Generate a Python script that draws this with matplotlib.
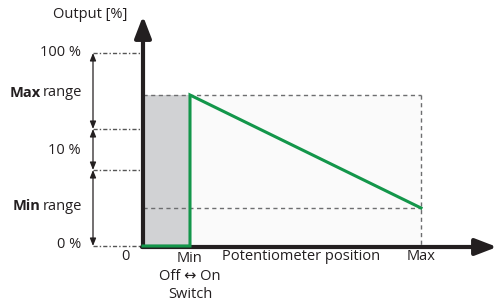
import matplotlib
matplotlib.use("Agg")
import matplotlib.pyplot as plt
from matplotlib.patches import Rectangle

plt.rcParams["font.family"] = ["Open Sans", "DejaVu Sans"]

# schematic coordinates (figure pixels, y downward)
x_axis0 = 143          # output axis position (potentiometer = 0)
x_min = 190            # Min position (switch point)
x_max = 421            # Max position
y_zero = 246           # 0 %
y_min_range = 208      # level reached at Max position
y_10_low = 170         # lower bound of 10 % band
y_10_high = 129        # upper bound of 10 % band
y_max_range = 95       # level reached at Min position
y_100 = 53             # 100 %

curve_x = [x_axis0, x_min, x_min, x_max]
curve_y = [y_zero, y_zero, y_max_range, y_min_range]

ref_levels = [y_100, y_10_high, y_10_low, y_zero]
level_labels = ["100 %", "10 %", "0 %"]
level_label_y = [53, 150, 244]
range_words = ["Max", "Min"]
range_label_y = [93, 206]

fig = plt.figure(figsize=(4.97, 3.05), dpi=100)
ax = fig.add_axes([0, 0, 1, 1])
ax.set_xlim(0, 497)
ax.set_ylim(305, 0)
ax.axis("off")

# background areas
ax.add_patch(Rectangle((x_min, y_max_range), x_max - x_min, y_zero - y_max_range,
                       facecolor="#fafafa", edgecolor="none", zorder=0))
ax.add_patch(Rectangle((x_axis0, y_max_range), x_min - x_axis0, y_zero - y_max_range,
                       facecolor="#d1d2d4", edgecolor="none", zorder=1))

dash = dict(color="#6d6e70", lw=1.0, ls=(0, (3, 2.5)), zorder=2)
ax.plot([x_axis0, x_max], [y_max_range, y_max_range], **dash)
ax.plot([x_max, x_max], [y_max_range, y_zero], **dash)
ax.plot([x_axis0, x_max], [y_min_range, y_min_range], **dash)

# dash-dot reference lines to the left of the axis
for y in ref_levels:
    ax.plot([93, x_axis0], [y, y], color="#555555", lw=1.0,
            ls=(0, (3, 1.5, 1, 1.5)), zorder=2)

# range arrows
arr = dict(arrowstyle="<|-|>,head_length=0.45,head_width=0.18", color="#231f20",
           lw=0.9, shrinkA=0, shrinkB=0)
for y0, y1 in [(y_100, y_10_high), (y_10_high, y_10_low), (y_10_low, y_zero)]:
    ax.annotate("", xy=(93, y0), xytext=(93, y1), arrowprops=arr)

# axes with arrows
head = "-|>,head_length=1.3,head_width=0.5"
ax.annotate("", xy=(x_axis0, 16), xytext=(x_axis0, y_zero + 1),
            arrowprops=dict(arrowstyle=head, color="#231f20", lw=3,
                            shrinkA=0, shrinkB=0), zorder=5)
ax.annotate("", xy=(497, y_zero + 1), xytext=(x_axis0 - 1, y_zero + 1),
            arrowprops=dict(arrowstyle=head, color="#231f20", lw=3,
                            shrinkA=0, shrinkB=0), zorder=5)

# output curve
ax.plot(curve_x, curve_y, color="#13964a", lw=2.2, zorder=6, solid_joinstyle="miter")

fs = 10.5
tc = "#231f20"
ax.text(90, 15, "Output [%]", fontsize=fs, ha="center", va="center", color=tc)
for lab, y in zip(level_labels, level_label_y):
    ax.text(81, y, lab, fontsize=fs, ha="right", va="center", color=tc)

renderer = fig.canvas.get_renderer()
for word, y in zip(range_words, range_label_y):
    t = ax.text(82, y, "range", fontsize=fs, ha="right", va="center", color=tc)
    bb = t.get_window_extent(renderer)
    x_left = ax.transData.inverted().transform((bb.x0, 0))[0]
    ax.text(x_left - 2, y, word, fontsize=fs, ha="right", va="center", color=tc,
            fontweight="bold")

ax.text(125, 256, "0", fontsize=fs, ha="center", va="center", color=tc)
ax.text(x_min, 258, "Min", fontsize=fs, ha="center", va="center", color=tc)
ax.text(301, 257, "Potentiometer position", fontsize=fs, ha="center", va="center", color=tc)
ax.text(x_max, 256, "Max", fontsize=fs, ha="center", va="center", color=tc)
ax.text(190, 277, "Off \u2194 On", fontsize=fs, ha="center", va="center", color=tc)
ax.text(190, 295, "Switch", fontsize=fs, ha="center", va="center", color=tc)

fig.savefig("out.png", dpi=100)
